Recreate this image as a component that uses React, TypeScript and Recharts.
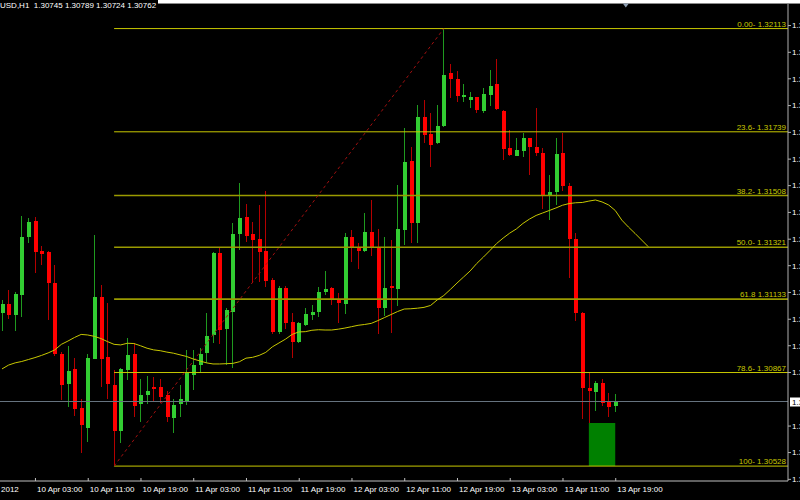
import {
  Bar,
  ComposedChart,
  Line,
  ReferenceArea,
  ReferenceDot,
  ReferenceLine,
  XAxis,
  YAxis,
} from "recharts";

// H1 bars, 9 Apr 22:00 .. 13 Apr 19:00
const opens = [
  1.31084, 1.31115, 1.31075, 1.31148, 1.31357, 1.31416, 1.31308, 1.31302, 1.3119, 1.30934,
  1.30824, 1.30879, 1.30738, 1.30667, 1.30916, 1.31142, 1.30924, 1.30822, 1.30656, 1.30876,
  1.30934, 1.30753, 1.30786, 1.30816, 1.30816, 1.30786, 1.30704, 1.30753, 1.30761, 1.30858,
  1.30894, 1.30939, 1.31003, 1.31299, 1.31025, 1.31087, 1.31369, 1.31431, 1.31369, 1.31351,
  1.31308, 1.31202, 1.31015, 1.31172, 1.31051, 1.30979, 1.31039, 1.31075, 1.31087, 1.3116,
  1.31172, 1.31132, 1.31114, 1.31359, 1.31321, 1.31308, 1.31375, 1.31323, 1.311, 1.3118,
  1.3117, 1.31383, 1.31634, 1.31407, 1.31793, 1.3173, 1.31697, 1.3176, 1.31951, 1.31929,
  1.31866, 1.31856, 1.31864, 1.31815, 1.31872, 1.31912, 1.31815, 1.31679, 1.31652, 1.3167,
  1.31715, 1.31685, 1.31661, 1.3151, 1.31522, 1.31661, 1.31544, 1.3135, 1.31082, 1.30811,
  1.30798, 1.30828, 1.30759, 1.30745,
];

const highs = [
  1.3113, 1.31166, 1.3116, 1.31434, 1.31426, 1.31431, 1.31325, 1.31308, 1.31256, 1.30941,
  1.30964, 1.30921, 1.30771, 1.30934, 1.31365, 1.31184, 1.31118, 1.30876, 1.30882, 1.30991,
  1.30973, 1.30844, 1.30854, 1.30852, 1.30844, 1.30801, 1.3077, 1.30822, 1.30949, 1.30949,
  1.30955, 1.31082, 1.31305, 1.31323, 1.31101, 1.3141, 1.31554, 1.31476, 1.31413, 1.31474,
  1.31525, 1.31209, 1.3118, 1.3118, 1.31082, 1.31051, 1.311, 1.31112, 1.31176, 1.31236,
  1.31178, 1.31154, 1.31373, 1.31383, 1.31335, 1.31446, 1.31492, 1.31386, 1.31359, 1.31347,
  1.31546, 1.31751, 1.31685, 1.31836, 1.31854, 1.31806, 1.31836, 1.32113, 1.31984, 1.31959,
  1.31912, 1.31884, 1.31866, 1.31898, 1.31963, 1.32001, 1.31818, 1.31745, 1.31715, 1.31735,
  1.31718, 1.31824, 1.31679, 1.31582, 1.31715, 1.31735, 1.31554, 1.31373, 1.31085, 1.3087,
  1.30836, 1.30844, 1.30792, 1.30789,
];

const lows = [
  1.31019, 1.31061, 1.31019, 1.31067, 1.31337, 1.31226, 1.31256, 1.31057, 1.30927, 1.30768,
  1.30743, 1.3071, 1.30575, 1.30617, 1.30915, 1.30816, 1.30771, 1.30528, 1.30613, 1.3084,
  1.30707, 1.30686, 1.30753, 1.30761, 1.30756, 1.30686, 1.30648, 1.30707, 1.30749, 1.30804,
  1.30866, 1.30903, 1.30974, 1.3097, 1.30894, 1.30885, 1.31311, 1.31339, 1.3119, 1.31196,
  1.31176, 1.31007, 1.31007, 1.31025, 1.30921, 1.30973, 1.31036, 1.31057, 1.31069, 1.31148,
  1.31112, 1.31047, 1.31079, 1.31268, 1.31241, 1.31305, 1.31289, 1.31007, 1.31072, 1.31009,
  1.31108, 1.31329, 1.31335, 1.31336, 1.31699, 1.3161, 1.31694, 1.31757, 1.3186, 1.31846,
  1.31846, 1.31824, 1.31808, 1.31806, 1.31832, 1.31818, 1.31637, 1.31653, 1.31651, 1.31649,
  1.31582, 1.31651, 1.31459, 1.31419, 1.31474, 1.31524, 1.31208, 1.31055, 1.30699, 1.30683,
  1.30728, 1.30747, 1.30705, 1.30724,
];

const closes = [
  1.31114, 1.31075, 1.31151, 1.31359, 1.31412, 1.31305, 1.31296, 1.31192, 1.30934, 1.30822,
  1.30873, 1.30735, 1.30677, 1.30921, 1.31142, 1.30916, 1.30824, 1.30656, 1.30879, 1.30931,
  1.30747, 1.30786, 1.308, 1.30806, 1.30777, 1.30707, 1.30749, 1.3077, 1.30866, 1.30894,
  1.30934, 1.31, 1.31299, 1.31021, 1.31093, 1.31369, 1.31428, 1.31363, 1.31347, 1.31302,
  1.31198, 1.31015, 1.31172, 1.31047, 1.30979, 1.31045, 1.31078, 1.31087, 1.31158, 1.31171,
  1.3113, 1.31118, 1.31359, 1.31321, 1.31308, 1.31377, 1.31317, 1.311, 1.31174, 1.31174,
  1.31386, 1.3163, 1.3141, 1.31793, 1.31727, 1.31691, 1.3176, 1.31944, 1.3193, 1.31868,
  1.31871, 1.31866, 1.31818, 1.31876, 1.31906, 1.3182, 1.31675, 1.31655, 1.31673, 1.31715,
  1.31685, 1.31663, 1.31506, 1.3152, 1.31658, 1.31542, 1.31351, 1.31082, 1.3081, 1.30801,
  1.3083, 1.30756, 1.30743, 1.30762,
];

// moving average, shifted 5 bars forward
const maValues = [
  1.3088, 1.30894, 1.30902, 1.30907, 1.30914, 1.30921, 1.30929, 1.30938, 1.30949, 1.30969,
  1.30981, 1.30994, 1.31005, 1.31003, 1.30998, 1.3099, 1.30979, 1.30969, 1.30967, 1.30973,
  1.30972, 1.30964, 1.30955, 1.30949, 1.30946, 1.30941, 1.30937, 1.30931, 1.30925, 1.30916,
  1.30909, 1.30902, 1.30898, 1.30898, 1.30899, 1.309, 1.30906, 1.30919, 1.30922, 1.30929,
  1.3094, 1.3096, 1.30974, 1.30988, 1.31005, 1.31014, 1.31015, 1.3102, 1.31022, 1.31021,
  1.31021, 1.31024, 1.31028, 1.31033, 1.31038, 1.31041, 1.31045, 1.31055, 1.31066, 1.31077,
  1.31088, 1.31097, 1.31098, 1.311, 1.31103, 1.3111, 1.3113, 1.31146, 1.31168, 1.31191,
  1.31213, 1.31235, 1.31262, 1.31285, 1.31309, 1.31334, 1.31354, 1.31372, 1.31387, 1.31407,
  1.31423, 1.31436, 1.31445, 1.31454, 1.31463, 1.31473, 1.31479, 1.31482, 1.31483, 1.31488,
  1.31492, 1.31485, 1.31474, 1.31454, 1.31419, 1.31394, 1.31371, 1.31347, 1.31323,
];

const timeTicks = [-0.3, 5, 13, 21, 29, 37, 45, 53, 61, 69, 77, 85, 93];
const timeLabels = [
  "2012",
  "10 Apr 03:00",
  "10 Apr 11:00",
  "10 Apr 19:00",
  "11 Apr 03:00",
  "11 Apr 11:00",
  "11 Apr 19:00",
  "12 Apr 03:00",
  "12 Apr 11:00",
  "12 Apr 19:00",
  "13 Apr 03:00",
  "13 Apr 11:00",
  "13 Apr 19:00",
];

// the tick under the bid box is hidden in the original, so it is left out
const priceTicks = [
  1.32124, 1.32027, 1.31931, 1.31834, 1.31737, 1.3164, 1.31544, 1.31447, 1.3135,
  1.31254, 1.31157, 1.3106, 1.30964, 1.30867, 1.30673, 1.30577, 1.3048,
];

const fibLevels = ["0.00-", "23.6-", "38.2-", "50.0-", "61.8", "78.6-", "100-"];
const fibPrices = [1.32113, 1.31739, 1.31508, 1.31321, 1.31133, 1.30867, 1.30528];
const fibDim = [false, false, true, true, true, false, false];

const fibStart = 17; // bar of the swing low
const fibEnd = 67; // bar of the swing high
const boxBars = [89, 93];
const boxPrices = [1.30528, 1.30684];
const bidPrice = 1.30762;
const symbol = "USD,H1";

const FONT = "'Liberation Sans', Arial, sans-serif";

const data = maValues.map((ma, i) => ({
  bar: i,
  ma,
  range: i < opens.length ? [lows[i], highs[i]] : undefined,
  open: opens[i],
  high: highs[i],
  low: lows[i],
  close: closes[i],
}));

function Candle(props: any) {
  const { x, y, width, height, payload } = props;
  if (payload == null || payload.open == null || !isFinite(y)) return null;
  const cx = Math.round(x + width / 2);
  const span = payload.high - payload.low || 1e-9;
  const py = (v: number) => y + ((payload.high - v) / span) * height;
  const up = payload.close >= payload.open;
  const top = py(Math.max(payload.open, payload.close));
  const bottom = py(Math.min(payload.open, payload.close));
  return (
    <g shapeRendering="crispEdges">
      <line
        x1={cx + 0.5}
        x2={cx + 0.5}
        y1={y}
        y2={y + height}
        stroke={up ? "#1f9a1f" : "#b40000"}
        strokeWidth={1}
      />
      <rect
        x={cx - 1}
        y={top}
        width={4}
        height={Math.max(1, bottom - top)}
        fill={up ? "#32cd32" : "#ff0000"}
      />
    </g>
  );
}

function TimeTick(props: any) {
  const { x, y, payload, index } = props;
  const label = timeLabels[timeTicks.indexOf(payload.value)] ?? "";
  return (
    <g>
      {index > 0 && (
        <line x1={x + 0.5} x2={x + 0.5} y1={y - 3} y2={y} stroke="#c0c0c0" />
      )}
      <text
        x={index > 0 ? x + 2 : 1}
        y={y + 11}
        fill="#ffffff"
        fontSize={8}
        fontFamily={FONT}
      >
        {label}
      </text>
    </g>
  );
}

export default function App() {
  const last = opens.length - 1;
  const title = `${symbol}  ${opens[last].toFixed(5)} ${highs[last].toFixed(5)} ${lows[last].toFixed(5)} ${closes[last].toFixed(5)}`;
  return (
    <div
      style={{
        position: "absolute",
        left: 0,
        top: 0,
        width: 800,
        height: 500,
        overflow: "hidden",
        background: "#000",
      }}
    >
      <div
        style={{
          position: "absolute",
          left: 0,
          top: 0,
          width: 800,
          height: 3,
          background: "#fff",
          borderBottom: "1px solid #8a8a8a",
        }}
      />
      <ComposedChart
        width={800}
        height={500}
        data={data}
        margin={{ top: 4, right: 0, bottom: 0, left: 0 }}
      >
        <XAxis
          dataKey="bar"
          type="number"
          domain={[-0.303, 119.2]}
          allowDataOverflow
          ticks={timeTicks}
          interval={0}
          height={19}
          tickLine={false}
          tickSize={0}
          tickMargin={0}
          axisLine={{ stroke: "#c0c0c0" }}
          tick={TimeTick}
        />
        <YAxis
          orientation="right"
          type="number"
          width={12}
          domain={[1.30474, 1.32202]}
          allowDataOverflow
          ticks={priceTicks}
          interval={0}
          tickSize={3}
          tickMargin={1}
          axisLine={{ stroke: "#b0b0b0" }}
          tickLine={{ stroke: "#b0b0b0" }}
          tick={{ fill: "#ffffff", fontSize: 8, fontFamily: FONT }}
          tickFormatter={(v: number) => v.toFixed(5)}
        />

        <ReferenceArea
          x1={boxBars[0]}
          x2={boxBars[1]}
          y1={boxPrices[0]}
          y2={boxPrices[1]}
          fill="#008000"
          fillOpacity={1}
          stroke="none"
        />

        <ReferenceLine
          y={bidPrice}
          stroke="#66737f"
          strokeWidth={1}
          label={({ viewBox }: any) => (
            <g>
              <rect
                x={viewBox.x + viewBox.width + 2}
                y={viewBox.y - 4}
                width={40}
                height={9}
                fill="#ffffff"
              />
              <text
                x={viewBox.x + viewBox.width + 4}
                y={viewBox.y + 3}
                fill="#000000"
                fontSize={8}
                fontFamily={FONT}
              >
                {bidPrice.toFixed(5)}
              </text>
            </g>
          )}
        />

        {fibPrices.map((p, k) => (
          <ReferenceLine
            key={fibLevels[k]}
            segment={[
              { x: fibStart, y: p },
              { x: 119.2, y: p },
            ]}
            stroke={fibDim[k] ? "#9a9a00" : "#c8c800"}
            strokeWidth={fibDim[k] ? 1.6 : 1}
            label={({ viewBox }: any) => (
              <text
                x={viewBox.x + viewBox.width - 2}
                y={viewBox.y - 2}
                textAnchor="end"
                fill="#c8c800"
                fontSize={8}
                fontFamily={FONT}
              >
                {`${fibLevels[k]} ${p.toFixed(5)}`}
              </text>
            )}
          />
        ))}

        <ReferenceLine
          segment={[
            { x: fibStart, y: fibPrices[6] },
            { x: fibEnd, y: fibPrices[0] },
          ]}
          stroke="#a01010"
          strokeDasharray="3 3"
        />

        <Bar
          dataKey="range"
          barSize={4}
          shape={Candle}
          isAnimationActive={false}
        />

        <Line
          type="linear"
          dataKey="ma"
          stroke="#c8c800"
          strokeWidth={1}
          dot={false}
          activeDot={false}
          isAnimationActive={false}
        />

        <ReferenceDot
          x={94.6}
          y={1.32197}
          ifOverflow="visible"
          shape={(p: any) => (
            <path
              d={`M${p.cx - 3},${p.cy - 2} L${p.cx + 3},${p.cy - 2} L${p.cx},${p.cy + 2} Z`}
              fill="#8fa0b4"
            />
          )}
        />
      </ComposedChart>
      <div
        style={{
          position: "absolute",
          left: 0,
          top: 0,
          height: 12,
          paddingRight: 2,
          background: "#000",
          color: "#fff",
          fontFamily: FONT,
          fontSize: 8,
          lineHeight: "12px",
          whiteSpace: "pre",
        }}
      >
        {title}
      </div>
    </div>
  );
}
